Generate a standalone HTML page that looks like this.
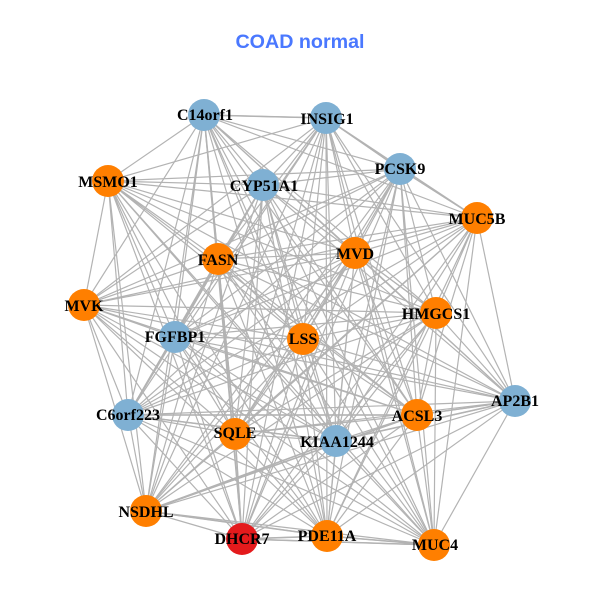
<!DOCTYPE html>
<html><head><meta charset="utf-8"><style>
html,body{margin:0;padding:0;background:#fff;width:600px;height:600px;overflow:hidden}
svg{display:block}
.l{font:bold 16px "Liberation Serif",serif;fill:#000;text-anchor:middle}
</style></head><body>
<svg width="600" height="600" viewBox="0 0 600 600" xmlns="http://www.w3.org/2000/svg">
<rect width="600" height="600" fill="#fff"/>
<g fill="none" stroke="#b3b3b3" stroke-width="1.2">
<path d="M204 115L108 181L204 115L263 185L204 115L218 259L204 115L84 305L204 115L326 118L204 115L400 169L204 115L477 218L204 115L355 253L204 115L436 313L204 115L175 337L204 115L128 415L204 115L235 434L204 115L146 511L204 115L242 539L204 115L303 339L204 115L417 415L204 115L515 401L204 115L336 441L204 115L327 536L204 115L434 545"/>
<path d="M108 181L263 185L108 181L218 259L108 181L84 305L108 181L326 118L108 181L400 169L108 181L477 218L108 181L355 253L108 181L436 313L108 181L175 337L108 181L128 415L108 181L235 434L108 181L146 511L108 181L242 539L108 181L303 339L108 181L417 415L108 181L515 401L108 181L336 441L108 181L327 536L108 181L434 545"/>
<path d="M263 185L218 259L263 185L84 305L263 185L326 118L263 185L400 169L263 185L477 218L263 185L355 253L263 185L436 313L263 185L175 337L263 185L128 415L263 185L235 434L263 185L146 511L263 185L242 539L263 185L303 339L263 185L417 415L263 185L515 401L263 185L336 441L263 185L327 536L263 185L434 545"/>
<path d="M218 259L84 305L218 259L326 118L218 259L400 169L218 259L477 218L218 259L355 253L218 259L436 313L218 259L175 337L218 259L128 415L218 259L235 434L218 259L146 511L218 259L242 539L218 259L303 339L218 259L417 415L218 259L515 401L218 259L336 441L218 259L327 536L218 259L434 545"/>
<path d="M84 305L326 118L84 305L400 169L84 305L477 218L84 305L355 253L84 305L436 313L84 305L175 337L84 305L128 415L84 305L235 434L84 305L146 511L84 305L242 539L84 305L303 339L84 305L417 415L84 305L515 401L84 305L336 441L84 305L327 536L84 305L434 545"/>
<path d="M326 118L400 169L326 118L477 218L326 118L355 253L326 118L436 313L326 118L175 337L326 118L128 415L326 118L235 434L326 118L146 511L326 118L242 539L326 118L303 339L326 118L417 415L326 118L515 401L326 118L336 441L326 118L327 536L326 118L434 545"/>
<path d="M400 169L477 218L400 169L355 253L400 169L436 313L400 169L175 337L400 169L128 415L400 169L235 434L400 169L146 511L400 169L242 539L400 169L303 339L400 169L417 415L400 169L515 401L400 169L336 441L400 169L327 536L400 169L434 545"/>
<path d="M477 218L355 253L477 218L436 313L477 218L175 337L477 218L128 415L477 218L235 434L477 218L146 511L477 218L242 539L477 218L303 339L477 218L417 415L477 218L515 401L477 218L336 441L477 218L327 536L477 218L434 545"/>
<path d="M355 253L436 313L355 253L175 337L355 253L128 415L355 253L235 434L355 253L146 511L355 253L242 539L355 253L303 339L355 253L417 415L355 253L515 401L355 253L336 441L355 253L327 536L355 253L434 545"/>
<path d="M436 313L175 337L436 313L128 415L436 313L235 434L436 313L146 511L436 313L242 539L436 313L303 339L436 313L417 415L436 313L515 401L436 313L336 441L436 313L327 536L436 313L434 545"/>
<path d="M175 337L128 415L175 337L235 434L175 337L146 511L175 337L242 539L175 337L303 339L175 337L417 415L175 337L515 401L175 337L336 441L175 337L327 536L175 337L434 545"/>
<path d="M128 415L235 434L128 415L146 511L128 415L242 539L128 415L303 339L128 415L417 415L128 415L515 401L128 415L336 441L128 415L327 536L128 415L434 545"/>
<path d="M235 434L146 511L235 434L242 539L235 434L303 339L235 434L417 415L235 434L515 401L235 434L336 441L235 434L327 536L235 434L434 545"/>
<path d="M146 511L242 539L146 511L303 339L146 511L417 415L146 511L515 401L146 511L336 441L146 511L327 536L146 511L434 545"/>
<path d="M242 539L303 339L242 539L417 415L242 539L515 401L242 539L336 441L242 539L327 536L242 539L434 545"/>
<path d="M303 339L417 415L303 339L515 401L303 339L336 441L303 339L327 536L303 339L434 545"/>
<path d="M417 415L515 401L417 415L336 441L417 415L327 536L417 415L434 545"/>
<path d="M515 401L336 441L515 401L327 536L515 401L434 545"/>
<path d="M336 441L327 536L336 441L434 545"/>
<path d="M327 536L434 545"/>
</g>
<path fill="none" stroke="#b3b3b3" stroke-width="1.55" d="M204 115L218 259M204 115L326 118M218 259L175 337M263 185L175 337M218 259L235 434M175 337L128 415M235 434L242 539M326 118L400 169M400 169L477 218M146 511L417 415M146 511L336 441M128 415L417 415M128 415L336 441M417 415L515 401M336 441L515 401M242 539L327 536M242 539L434 545M327 536L434 545M146 511L327 536"/>
<g fill="#7fb0d3">
<circle cx="204" cy="115" r="16"/><circle cx="326" cy="118" r="16"/><circle cx="400" cy="169" r="16"/><circle cx="263" cy="185" r="16"/><circle cx="175" cy="337" r="16"/><circle cx="128" cy="415" r="16"/><circle cx="515" cy="401" r="16"/><circle cx="336" cy="441" r="16"/>
</g>
<g fill="#ff7f00">
<circle cx="108" cy="181" r="16"/><circle cx="477" cy="218" r="16"/><circle cx="218" cy="259" r="16"/><circle cx="355" cy="253" r="16"/><circle cx="84" cy="305" r="16"/><circle cx="436" cy="313" r="16"/><circle cx="303" cy="339" r="16"/><circle cx="235" cy="434" r="16"/><circle cx="417" cy="415" r="16"/><circle cx="146" cy="511" r="16"/><circle cx="327" cy="536" r="16"/><circle cx="434" cy="545" r="16"/>
</g>
<circle cx="242" cy="539" r="16" fill="#e41a1c"/>
<g class="l">
<text class="l" x="205" y="120">C14orf1</text>
<text class="l" x="327" y="124">INSIG1</text>
<text class="l" x="400" y="174">PCSK9</text>
<text class="l" x="108" y="187">MSMO1</text>
<text class="l" x="264" y="191">CYP51A1</text>
<text class="l" x="477" y="224">MUC5B</text>
<text class="l" x="218" y="265">FASN</text>
<text class="l" x="355" y="259">MVD</text>
<text class="l" x="84" y="311">MVK</text>
<text class="l" x="436" y="319">HMGCS1</text>
<text class="l" x="175" y="342">FGFBP1</text>
<text class="l" x="303" y="344">LSS</text>
<text class="l" x="128" y="420">C6orf223</text>
<text class="l" x="235" y="438">SQLE</text>
<text class="l" x="417" y="421">ACSL3</text>
<text class="l" x="515" y="406">AP2B1</text>
<text class="l" x="337" y="447">KIAA1244</text>
<text class="l" x="146" y="517">NSDHL</text>
<text class="l" x="242" y="544">DHCR7</text>
<text class="l" x="327" y="541">PDE11A</text>
<text class="l" x="435" y="550">MUC4</text>
</g>
<text x="300" y="48" text-anchor="middle" style="font:bold 19.7px 'Liberation Sans',sans-serif" fill="#4a78ff">COAD normal</text>
</svg>
</body></html>
